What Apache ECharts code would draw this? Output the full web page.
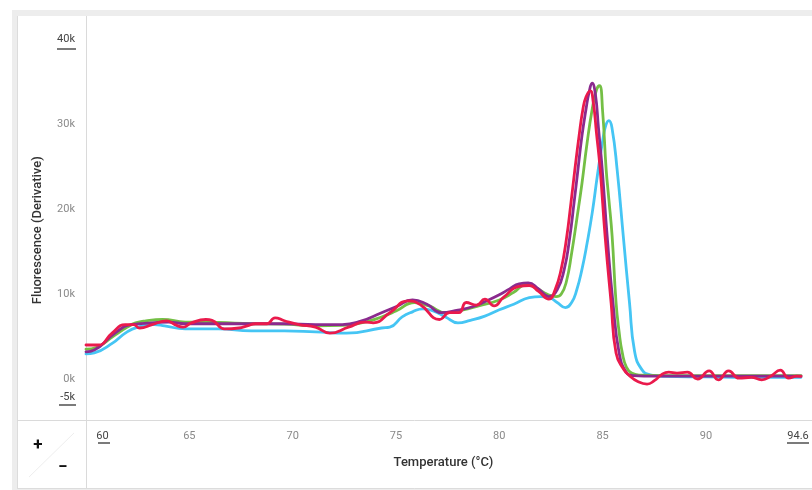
<!DOCTYPE html>
<html><head><meta charset="utf-8">
<script src="https://cdn.jsdelivr.net/npm/echarts@6/dist/echarts.min.js"></script>
<style>html,body{margin:0;padding:0;background:#fff}#c{width:812px;height:490px}</style>
</head><body><div id="c"></div>
<script>
// Temperature (°C) and derivative fluorescence values
const cyanT = [60, 60.4, 61.3, 61.9, 62.5, 63.3, 63.8, 64.8, 66.4, 68, 69.6, 71.1, 72.6, 74.3, 74.7, 75.3, 75.8, 76.3, 76.8, 77.4, 78.0, 78.6, 79.3, 80.0, 80.7, 81.45, 82.0, 82.4, 82.8, 83.2, 83.5, 83.75, 84.0, 84.25, 84.5, 84.75, 85.0, 85.15, 85.3, 85.45, 85.7, 86.0, 86.3, 86.55, 86.9, 87.3, 88, 90, 92, 94.6];
const cyanV = [2950, 3070, 4250, 5400, 6100, 6400, 6250, 5900, 5900, 5670, 5670, 5550, 5400, 6000, 6100, 7300, 7900, 8260, 8000, 7300, 6600, 6900, 7400, 8150, 8800, 9560, 9700, 9600, 9000, 8400, 9000, 10500, 12900, 16000, 19600, 24000, 28000, 29800, 30400, 29600, 24700, 16800, 9000, 3200, 1100, 500, 300, 250, 200, 200];

const greenT = [60, 60.5, 61.3, 62.0, 62.4, 62.9, 63.7, 64.8, 66.4, 68, 69.6, 71.1, 72.4, 73.5, 74.3, 75.0, 75.9, 76.6, 77.4, 78.2, 79.0, 80.0, 80.7, 81.3, 81.8, 82.3, 82.75, 83.0, 83.25, 83.5, 83.75, 84.0, 84.25, 84.5, 84.7, 84.85, 85.0, 85.17, 85.3, 85.46, 85.65, 85.8, 85.95, 86.15, 86.4, 86.8, 88, 90, 92, 94.6];
const greenV = [3500, 3700, 5000, 6100, 6600, 6850, 7000, 6700, 6650, 6500, 6450, 6250, 6300, 6700, 7300, 8000, 9000, 8600, 7800, 8100, 8600, 9300, 10200, 11100, 10700, 10000, 9700, 10000, 11500, 14800, 18800, 23000, 27800, 31800, 34000, 34500, 31500, 24700, 21200, 16800, 9000, 5500, 3100, 1400, 700, 450, 400, 400, 400, 400];

const purpleT = [60, 60.4, 61.4, 62.2, 63.2, 64.0, 64.8, 66.4, 68, 69.6, 71.1, 72.4, 73.3, 74.3, 75.0, 75.8, 76.5, 77.2, 78.0, 78.7, 79.4, 80.0, 80.5, 80.96, 81.4, 81.9, 82.4, 82.8, 83.14, 83.4, 83.62, 83.8, 84.0, 84.2, 84.35, 84.49, 84.65, 84.8, 84.98, 85.22, 85.5, 85.8, 86.14, 86.5, 87, 88, 90, 92, 94.6];
const purpleV = [3200, 3400, 5400, 6400, 6600, 6700, 6500, 6500, 6500, 6500, 6400, 6400, 6800, 7800, 8500, 9300, 8800, 7800, 8100, 8500, 9200, 9900, 10600, 11200, 11300, 10600, 9700, 10500, 12870, 16500, 20780, 24500, 28600, 31800, 33800, 34800, 33500, 29500, 24700, 16800, 9000, 3070, 800, 400, 350, 350, 350, 350, 350];

const redT = [60, 60.6, 61.26, 61.9, 62.3, 62.6, 63.2, 63.9, 64.3, 64.7, 65.1, 65.8, 66.1, 66.7, 67.4, 67.8, 68.2, 68.75, 69.15, 69.6, 70.3, 71.1, 71.8, 72.7, 73.5, 73.9, 74.7, 75.6, 76.2, 77.1, 77.6, 78.05, 78.4, 78.9, 79.3, 79.75, 80.2, 80.96, 81.45, 81.9, 82.4, 82.7, 82.99, 83.25, 83.47, 83.65, 83.86, 84.05, 84.2, 84.4, 84.55, 84.7, 84.88, 85.12, 85.41, 85.65, 86.0, 86.3, 86.7, 87.15, 87.5, 87.9, 88.2, 88.6, 89.1, 89.6, 90.15, 90.6, 91.1, 91.6, 92.2, 92.7, 93.15, 93.6, 94.0, 94.4, 94.6];
const redV = [4000, 4000, 5400, 6400, 6400, 6000, 6400, 6850, 6400, 6100, 6600, 7000, 6900, 5900, 6000, 6250, 6500, 6500, 7200, 6850, 6400, 6100, 5400, 6100, 6700, 6600, 7800, 9200, 8700, 7000, 7800, 7800, 9000, 8700, 9400, 8600, 9600, 10900, 11000, 10300, 9400, 10500, 12870, 16500, 20780, 24500, 28600, 31800, 33200, 33900, 32500, 29000, 24700, 16800, 9000, 3070, 1200, 400, -300, -600, -200, 600, 800, 700, 800, 0, 950, -100, 950, 100, 200, -100, 350, 1050, 100, 350, 300];

const xTicks = {min: 60, max: 94.6, interval: 5};
const yTicks = {min: -5000, max: 40000, interval: 5000};

const font = 'Roboto, "DejaVu Sans", sans-serif';
const chart = echarts.init(document.getElementById('c'), null, {renderer: 'canvas'});

function mk(name, T, V, color, z) {
  return {
    name, type: 'line', data: T.map((t, i) => [t, V[i]]),
    showSymbol: false, smooth: 0.5, z,
    lineStyle: {color, width: 2.8, cap: 'round', join: 'round'}, itemStyle: {color}
  };
}

chart.setOption({
  animation: false,
  backgroundColor: '#fff',
  grid: {left: 86, right: 11, top: 39, bottom: 68.5},
  xAxis: {
    type: 'value', min: xTicks.min, max: xTicks.max, interval: xTicks.interval,
    axisLine: {show: false}, axisTick: {show: false}, splitLine: {show: false},
    name: 'Temperature (°C)', nameLocation: 'middle', nameGap: 35,
    nameTextStyle: {fontFamily: font, fontSize: 13, fontWeight: 500, color: '#333'},
    axisLabel: {
      margin: 9, fontFamily: font, fontSize: 11, color: '#8a8a8a',
      formatter: v => v === xTicks.min ? '{lo|' + v + '}' : (v === xTicks.max ? '{hi|' + v + '}' : String(v)),
      rich: {
        lo: {fontFamily: font, fontSize: 11, color: '#444', padding: [0, 0, 0, 33]},
        hi: {fontFamily: font, fontSize: 11, color: '#444', padding: [0, 6, 0, 0]}
      }
    }
  },
  yAxis: {
    type: 'value', min: yTicks.min, max: yTicks.max, interval: yTicks.interval,
    axisLine: {show: false}, axisTick: {show: false}, splitLine: {show: false},
    name: 'Fluorescence (Derivative)', nameLocation: 'middle', nameGap: 42,
    nameTextStyle: {fontFamily: font, fontSize: 13, fontWeight: 500, color: '#333'},
    axisLabel: {
      margin: 11, fontFamily: font, fontSize: 11, color: '#8a8a8a',
      formatter: v => {
        if (v === yTicks.min) return '{lo|' + (v / 1000) + 'k}';
        if (v === yTicks.max) return '{hi|' + (v / 1000) + 'k}';
        return v % 10000 === 0 ? (v / 1000) + 'k' : '';
      },
      rich: {
        lo: {fontFamily: font, fontSize: 11, color: '#444', padding: [0, 0, 48, 0]},
        hi: {fontFamily: font, fontSize: 11, color: '#444', padding: [0, 0, 0, 0]}
      }
    }
  },
  series: [
    mk('A', cyanT, cyanV, '#45c5f4', 1),
    mk('B', greenT, greenV, '#74bf45', 2),
    mk('C', purpleT, purpleV, '#8b2a8e', 3),
    mk('D', redT, redV, '#ea1a4c', 4)
  ]
});

// Frame, panel dividers, zoom buttons and label underlines
const yTop = chart.convertToPixel({yAxisIndex: 0}, yTicks.max);
const yBot = chart.convertToPixel({yAxisIndex: 0}, yTicks.min);
const xL = chart.convertToPixel({xAxisIndex: 0}, xTicks.min);
const xR = chart.convertToPixel({xAxisIndex: 0}, xTicks.max);
const ul = {stroke: '#333', lineWidth: 1.3};
chart.setOption({
  graphic: [
    {type: 'rect', z: -10, silent: true, shape: {x: 12, y: 10, width: 800, height: 480}, style: {fill: '#ededed'}},
    {type: 'rect', z: -9, silent: true, shape: {x: 17, y: 16, width: 795, height: 472}, style: {fill: '#fff'}},
    {type: 'line', z: -8, silent: true, shape: {x1: 17.5, y1: 16, x2: 17.5, y2: 488}, style: {stroke: '#dcdcdc', lineWidth: 1}},
    {type: 'line', z: -8, silent: true, shape: {x1: 17, y1: 488.5, x2: 812, y2: 488.5}, style: {stroke: '#dcdcdc', lineWidth: 1}},
    {type: 'line', z: -8, silent: true, shape: {x1: 86.5, y1: 16, x2: 86.5, y2: 488}, style: {stroke: '#dadada', lineWidth: 1}},
    {type: 'line', z: -8, silent: true, shape: {x1: 17, y1: 420.5, x2: 812, y2: 420.5}, style: {stroke: '#dadada', lineWidth: 1}},
    {type: 'line', z: -8, silent: true, shape: {x1: 29, y1: 477, x2: 74, y2: 433}, style: {stroke: '#eeeeee', lineWidth: 1}},
    {type: 'text', style: {text: '+', x: 38, y: 446, align: 'center', verticalAlign: 'middle', font: 'bold 17px ' + font, fill: '#111'}},
    {type: 'text', style: {text: '−', x: 63, y: 468, align: 'center', verticalAlign: 'middle', font: 'bold 17px ' + font, fill: '#111'}},
    {type: 'line', silent: true, shape: {x1: 57, y1: yTop + 10, x2: 76, y2: yTop + 10}, style: ul},
    {type: 'line', silent: true, shape: {x1: 59, y1: yBot - 16.5, x2: 76, y2: yBot - 16.5}, style: ul},
    {type: 'line', silent: true, shape: {x1: xL + 12, y1: 443, x2: xL + 24, y2: 443}, style: ul},
    {type: 'line', silent: true, shape: {x1: xR - 14, y1: 443, x2: xR + 8, y2: 443}, style: ul}
  ]
});
</script>
</body></html>
